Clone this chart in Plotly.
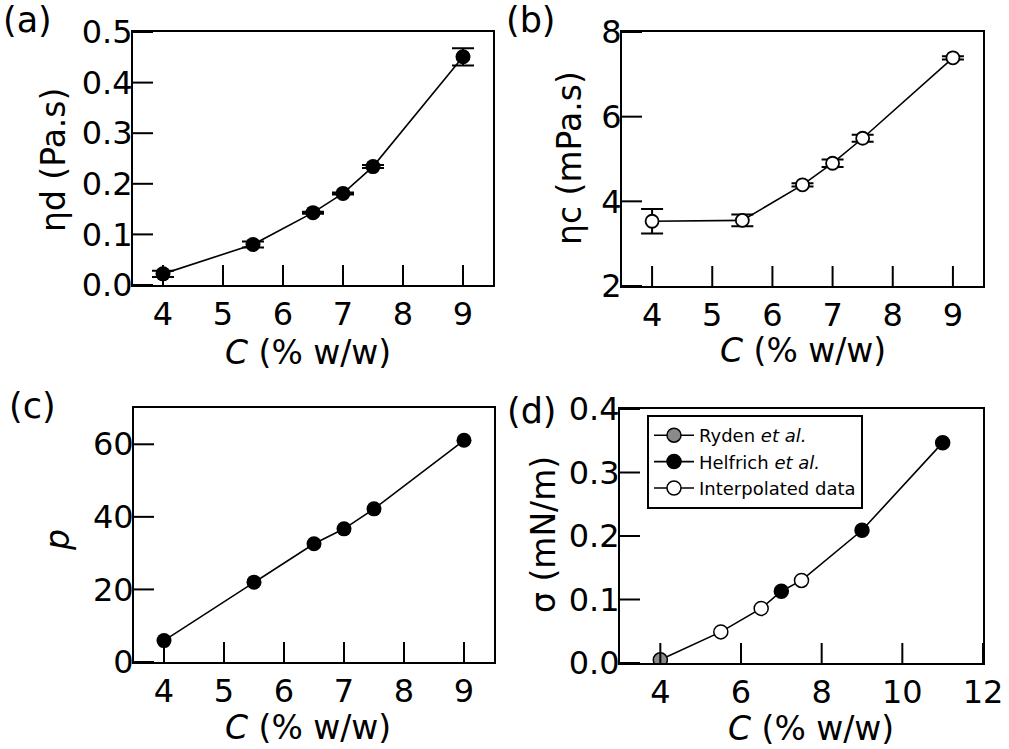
import plotly.graph_objects as go

# (a) drop-phase viscosity vs concentration
C_a = [4.0, 5.5, 6.5, 7.0, 7.5, 9.0]
eta_d = [0.022, 0.080, 0.143, 0.181, 0.234, 0.451]
eta_d_err = [0.006, 0.006, 0.002, 0.002, 0.003, 0.017]

# (b) continuous-phase viscosity vs concentration
C_b = [4.0, 5.5, 6.5, 7.0, 7.5, 9.0]
eta_c = [3.53, 3.55, 4.39, 4.90, 5.49, 7.39]
eta_c_err = [0.29, 0.14, 0.04, 0.09, 0.08, 0.04]

# (c) viscosity ratio p vs concentration
C_c = [4.0, 5.5, 6.5, 7.0, 7.5, 9.0]
p_vals = [5.9, 22.0, 32.6, 36.7, 42.2, 61.1]

# (d) interfacial tension, by source
C_ryden = [4.0]
sigma_ryden = [0.005]
C_helfrich = [7.0, 9.0, 11.0]
sigma_helfrich = [0.113, 0.209, 0.347]
C_interp = [5.5, 6.5, 7.5]
sigma_interp = [0.049, 0.086, 0.130]

# tick values per panel
C_ticks = [4, 5, 6, 7, 8, 9]
C_ticks_d = [4, 6, 8, 10, 12]
eta_d_ticks = [0, 0.1, 0.2, 0.3, 0.4, 0.5]
eta_c_ticks = [2, 4, 6, 8]
p_ticks = [0, 20, 40, 60]
sigma_ticks = [0, 0.1, 0.2, 0.3, 0.4]

FONT = "DejaVu Sans, Arial, sans-serif"
TICK_SIZE = 32
TITLE_SIZE = 33
LW = 1.6
TICK_LEN = 20
W, H = 1009, 749


def gapped(xs):
    # separate single points so a lines+markers trace draws no segments
    out = []
    for i, v in enumerate(xs):
        if i:
            out.append(None)
        out.append(v)
    return out


fig = go.Figure()

# ---- (a)
fig.add_trace(go.Scatter(
    x=C_a, y=eta_d, mode="lines+markers", xaxis="x", yaxis="y",
    line=dict(color="black", width=LW),
    marker=dict(size=15, color="black"),
    error_y=dict(type="data", array=eta_d_err, color="black", thickness=2, width=11),
    showlegend=False))

# ---- (b)
fig.add_trace(go.Scatter(
    x=C_b, y=eta_c, mode="lines+markers", xaxis="x2", yaxis="y2",
    line=dict(color="black", width=LW),
    marker=dict(size=13, color="white", line=dict(color="black", width=1.8)),
    error_y=dict(type="data", array=eta_c_err, color="black", thickness=2, width=11),
    showlegend=False))

# ---- (c)
fig.add_trace(go.Scatter(
    x=C_c, y=p_vals, mode="lines+markers", xaxis="x3", yaxis="y3",
    line=dict(color="black", width=LW),
    marker=dict(size=15, color="black"),
    showlegend=False))

# ---- (d): one connecting line through all sources, sorted by C
all_pts = sorted(zip(C_ryden + C_helfrich + C_interp,
                     sigma_ryden + sigma_helfrich + sigma_interp))
fig.add_trace(go.Scatter(
    x=[c for c, _ in all_pts], y=[s for _, s in all_pts], mode="lines",
    xaxis="x4", yaxis="y4", line=dict(color="black", width=LW),
    showlegend=False, hoverinfo="skip"))

groups = [
    ("Ryden <i>et al.</i>", C_ryden, sigma_ryden, "#8a8a8a"),
    ("Helfrich <i>et al.</i>", C_helfrich, sigma_helfrich, "black"),
    ("Interpolated data", C_interp, sigma_interp, "white"),
]
for name, xs, ys, col in groups:
    fig.add_trace(go.Scatter(
        x=gapped(xs), y=gapped(ys), mode="lines+markers", name=name,
        xaxis="x4", yaxis="y4", connectgaps=False,
        line=dict(color="black", width=LW),
        marker=dict(size=14, color=col, line=dict(color="black", width=1.5))))


def xd(a, b):
    return [a / W, b / W]


def yd(top, bottom):
    return [(H - bottom) / H, (H - top) / H]


def axis(**kw):
    base = dict(
        showline=True, linecolor="black", linewidth=2, mirror=True,
        ticks="", showgrid=False, zeroline=False, automargin=False,
        tickfont=dict(family=FONT, size=TICK_SIZE, color="black"),
    )
    base.update(kw)
    return base


panels = [
    # x id, y id, x px span, y px span, x range, y range, x ticks, y ticks, y fmt
    ("x", "y", (133, 493), (32, 285), [3.5, 9.5], [0, 0.5], C_ticks, eta_d_ticks, ".1f"),
    ("x2", "y2", (622, 983), (32, 286), [3.5, 9.5], [2, 8], C_ticks, eta_c_ticks, ""),
    ("x3", "y3", (134, 494), (408, 662), [3.5, 9.5], [0, 70], C_ticks, p_ticks, ""),
    ("x4", "y4", (620, 983), (409, 663), [3, 12], [0, 0.4], C_ticks_d, sigma_ticks, ".1f"),
]

axes_layout = {}
tick_shapes = []
for xid, yid, xs, ys, xr, yr, xt, yt, yf in panels:
    axes_layout["xaxis" + xid[1:]] = axis(domain=xd(*xs), range=xr, tickvals=xt,
                                          anchor=yid)
    axes_layout["yaxis" + yid[1:]] = axis(domain=yd(*ys), range=yr, tickvals=yt,
                                          tickformat=yf, anchor=xid,
                                          ticklabelstandoff=-8)
    # inward tick marks: positioned by the data axis, fixed pixel length
    for v in xt:
        tick_shapes.append(dict(
            type="line", layer="above", xref=xid, x0=v, x1=v,
            yref=yid + " domain", ysizemode="pixel", yanchor=0, y0=0, y1=TICK_LEN,
            line=dict(color="black", width=2)))
    for v in yt:
        tick_shapes.append(dict(
            type="line", layer="above", yref=yid, y0=v, y1=v,
            xref=xid + " domain", xsizemode="pixel", xanchor=0, x0=0, x1=TICK_LEN,
            line=dict(color="black", width=2)))

fig.update_layout(
    template="none",
    width=W, height=H,
    margin=dict(l=0, r=0, t=0, b=0, autoexpand=False),
    paper_bgcolor="white", plot_bgcolor="white",
    font=dict(family=FONT, color="black"),
    legend=dict(
        x=647 / W, y=(H - 415) / H, xanchor="left", yanchor="top",
        bgcolor="white", bordercolor="black", borderwidth=2,
        font=dict(family=FONT, size=18, color="black"),
        tracegroupgap=0, itemwidth=40),
    shapes=tick_shapes,
    **axes_layout,
)

# axis titles and panel letters
xtitle = "<i>C</i> (% w/w)"
titles = [
    # text, x px, y px, angle, size
    (xtitle, 308, 352, 0, TITLE_SIZE),
    (xtitle, 803, 351, 0, TITLE_SIZE),
    (xtitle, 308, 727, 0, TITLE_SIZE),
    (xtitle, 811, 728, 0, TITLE_SIZE),
    ("ηd (Pa.s)", 53, 160, -90, TITLE_SIZE),
    ("ηc (mPa.s)", 570, 158, -90, TITLE_SIZE),
    ("<i>p</i>", 57, 540, -90, TITLE_SIZE),
    ("σ (mN/m)", 543, 535, -90, TITLE_SIZE),
    ("(a)", 27, 20, 0, 35),
    ("(b)", 531, 20, 0, 35),
    ("(c)", 32, 406, 0, 35),
    ("(d)", 532, 411, 0, 35),
]
for txt, px, py, ang, size in titles:
    fig.add_annotation(
        text=txt, x=px / W, y=(H - py) / H, xref="paper", yref="paper",
        xanchor="center", yanchor="middle", showarrow=False, textangle=ang,
        font=dict(family=FONT, size=size, color="black"))

fig.write_html("out.html")
